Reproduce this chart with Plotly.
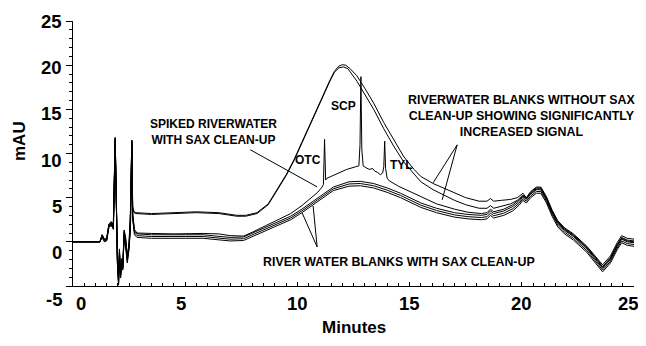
import plotly.graph_objects as go

# ---------------- data (minutes, mAU) ----------------
# Riverwater blanks WITHOUT SAX clean-up (upper pair)
t_a1 = [0, 1.2, 1.3, 1.4, 1.5, 1.6, 1.7, 1.8, 1.88, 1.93, 1.98, 2.03, 2.07, 2.12, 2.17, 2.22, 2.28, 2.35, 2.42, 2.5,
        2.56, 2.62, 2.66, 2.72, 2.8, 3.5, 4.5, 5.5, 6.5, 7.3, 7.7, 8.2, 8.7, 9.1, 9.5, 9.85, 10.2, 10.6, 10.9, 11.2,
        11.45, 11.65, 11.85, 12.0, 12.15, 12.35, 12.65, 13.0, 13.4, 13.85, 14.3, 14.75, 15.2, 15.5, 16.05, 16.5,
        17.0, 17.5, 18.1, 18.45, 18.6, 18.75, 19.1, 19.5, 19.8, 20.05, 20.2, 20.4, 20.65, 20.85, 21.1, 21.35, 21.6,
        21.9, 22.3, 22.9, 23.3, 23.6, 23.95, 24.25, 24.45, 24.7, 25.0]
v_a1 = [0, 0, 0.8, 0.3, 0.2, 2.0, 1.7, 2.3, 11.8, 3.0, -2.5, -4.8, -1.5, -4.0, -2.0, -3.0, 1.3, 0.5, -1.8, 0.0,
        3.5, 11.5, 4.0, 3.4, 3.3, 3.2, 3.3, 3.4, 3.3, 3.0, 3.0, 3.3, 4.3, 5.9, 7.6, 9.3, 11.3, 13.5, 15.2, 16.9,
        18.3, 19.3, 19.9, 20.05, 20.0, 19.6, 18.8, 17.4, 15.7, 13.5, 11.5, 9.6, 8.2, 7.4, 6.6, 6.1,
        5.5, 5.0, 4.6, 4.6, 4.9, 4.6, 4.7, 4.8, 5.0, 5.5, 5.0, 5.7, 6.2, 6.2, 5.1, 3.6, 2.4,
        1.6, 0.9, -0.5, -1.7, -2.6, -1.6, -0.1, 0.7, 0.4, 0.3]
t_a2 = [0, 1.2, 1.3, 1.4, 1.5, 1.6, 1.7, 1.8, 1.88, 1.93, 1.98, 2.03, 2.07, 2.12, 2.17, 2.22, 2.28, 2.35, 2.42, 2.5,
        2.56, 2.62, 2.66, 2.72, 2.8, 3.5, 4.5, 5.5, 6.5, 7.3, 7.7, 8.2, 8.7, 9.1, 9.5, 9.85, 10.2, 10.6, 10.9, 11.2,
        11.45, 11.65, 11.85, 12.05, 12.25, 12.65, 13.0, 13.4, 13.85, 14.3, 14.75, 15.2, 15.5, 16.05, 16.5,
        17.0, 17.5, 18.1, 18.45, 18.6, 18.75, 19.1, 19.5, 19.8, 20.05, 20.2, 20.4, 20.65, 20.85, 21.1, 21.35, 21.6,
        21.9, 22.3, 22.9, 23.3, 23.6, 23.95, 24.25, 24.45, 24.7, 25.0]
v_a2 = [0, 0, 0.7, 0.2, 0.3, 1.9, 1.8, 2.1, 11.6, 2.8, -2.2, -4.5, -1.2, -3.7, -2.3, -2.7, 1.1, 0.2, -1.9, -0.2,
        3.2, 11.4, 3.8, 3.3, 3.2, 3.1, 3.2, 3.3, 3.2, 2.9, 2.9, 3.2, 4.2, 5.8, 7.5, 9.2, 11.2, 13.4, 15.1, 16.8,
        18.2, 19.2, 19.7, 19.8, 19.6, 18.2, 16.7, 15.0, 12.8, 10.8, 9.0, 7.6, 6.8, 5.9, 5.3,
        4.7, 4.2, 3.8, 3.8, 4.1, 3.8, 4.0, 4.3, 4.7, 5.3, 4.9, 5.6, 6.1, 6.1, 5.0, 3.5, 2.3,
        1.5, 0.8, -0.6, -1.8, -2.8, -1.8, -0.3, 0.5, 0.2, 0.1]

# River water blanks WITH SAX clean-up (three lower lines)
t_b = [0, 1.2, 1.3, 1.4, 1.5, 1.6, 1.7, 1.8, 1.88, 1.93, 1.98, 2.03, 2.07, 2.12, 2.17, 2.22, 2.28, 2.35, 2.42, 2.5,
       2.56, 2.62, 2.66, 2.74, 2.85, 3.5, 4.5, 5.0, 5.8, 6.5, 7.0, 7.6, 8.0, 8.5, 9.0, 9.7, 10.2, 10.9, 11.6, 12.3,
       12.8, 13.4, 14.0, 14.6, 15.5, 16.2, 17.0, 17.6, 18.2, 18.45, 18.6, 18.75, 19.2, 19.6, 19.9, 20.05, 20.2,
       20.4, 20.65, 20.85, 21.1, 21.35, 21.6, 21.9, 22.3, 22.9, 23.3, 23.6, 23.95, 24.25, 24.45, 24.7, 25.0]
v_b1 = [0, 0, 0.7, 0.2, 0.3, 1.8, 2.2, 1.6, 11.6, 2.5, -2.0, -4.2, -1.0, -3.5, -2.2, -2.8, 1.0, -0.3, -2.0, -0.4,
        2.0, 11.3, 3.0, 1.2, 0.9, 0.8, 0.75, 0.8, 0.8, 0.6, 0.5, 0.55, 1.0, 1.6, 2.1, 2.9, 3.7, 5.0, 6.2, 6.8,
        6.85, 6.6, 6.1, 5.5, 4.4, 3.8, 3.3, 3.1, 3.0, 3.1, 3.5, 3.2, 3.5, 4.0, 4.6, 5.1, 4.8,
        5.4, 5.9, 5.9, 4.8, 3.3, 2.1, 1.3, 0.6, -0.8, -2.0, -3.0, -2.0, -0.5, 0.3, 0.0, -0.1]
v_b2 = [0, 0, 0.6, 0.1, 0.2, 1.7, 2.1, 1.5, 11.3, 2.2, -2.3, -4.6, -1.3, -3.8, -2.5, -3.0, 0.8, -0.5, -2.2, -0.6,
        1.8, 11.0, 2.7, 1.0, 0.7, 0.6, 0.55, 0.6, 0.6, 0.4, 0.3, 0.35, 0.8, 1.4, 1.9, 2.7, 3.5, 4.8, 6.0, 6.55,
        6.6, 6.35, 5.85, 5.25, 4.15, 3.55, 3.05, 2.85, 2.75, 2.85, 3.25, 2.95, 3.25, 3.75, 4.4, 4.9, 4.6,
        5.2, 5.7, 5.7, 4.6, 3.1, 1.9, 1.1, 0.4, -1.0, -2.2, -3.2, -2.2, -0.7, 0.1, -0.2, -0.3]
v_b3 = [0, 0, 0.5, 0.0, 0.1, 1.6, 2.0, 1.4, 11.0, 2.0, -2.5, -4.9, -1.6, -4.1, -2.7, -3.2, 0.6, -0.7, -2.4, -0.8,
        1.6, 10.8, 2.5, 0.8, 0.5, 0.4, 0.35, 0.4, 0.4, 0.2, 0.1, 0.15, 0.6, 1.2, 1.7, 2.5, 3.3, 4.6, 5.8, 6.3,
        6.35, 6.1, 5.6, 5.0, 3.9, 3.3, 2.8, 2.6, 2.5, 2.6, 3.0, 2.7, 3.0, 3.5, 4.2, 4.7, 4.4,
        5.0, 5.5, 5.5, 4.4, 2.9, 1.7, 0.9, 0.2, -1.2, -2.4, -3.4, -2.4, -0.9, -0.1, -0.4, -0.5]

# Spiked riverwater with SAX clean-up (OTC, SCP, TYL peaks)
t_c = [0, 1.2, 1.3, 1.4, 1.5, 1.6, 1.7, 1.8, 1.88, 1.93, 1.98, 2.03, 2.07, 2.12, 2.17, 2.22, 2.28, 2.35, 2.42, 2.5,
       2.56, 2.62, 2.66, 2.74, 2.85, 3.5, 4.5, 5.8, 6.5, 7.0, 7.6, 8.0, 8.5, 9.0, 9.7, 10.2, 10.6, 10.9, 11.1,
       11.16, 11.21, 11.26, 11.32, 11.5, 11.8, 12.2, 12.6, 12.74, 12.79, 12.83, 12.87, 12.93, 13.05, 13.2, 13.35,
       13.45, 13.55, 13.7, 13.8, 13.85, 13.89, 13.93, 14.0, 14.1, 14.5, 15.0, 15.5, 16.2, 17.0, 17.6, 18.2, 18.45,
       18.6, 18.75, 19.2, 19.6, 19.9, 20.05, 20.2, 20.4, 20.65, 20.85, 21.1, 21.35, 21.6, 21.9, 22.3, 22.9, 23.3,
       23.6, 23.95, 24.25, 24.45, 24.7, 25.0]
v_c = [0, 0, 0.8, 0.3, 0.4, 2.0, 2.3, 1.8, 11.8, 2.6, -1.8, -4.0, -0.8, -3.2, -1.9, -2.5, 1.3, 0.0, -1.7, -0.2,
       2.2, 11.5, 3.2, 1.4, 1.0, 0.95, 0.9, 0.95, 0.9, 0.7, 0.65, 1.1, 1.7, 2.3, 3.2, 4.1, 4.9, 5.6, 6.2,
       6.5, 11.6, 7.0, 7.2, 7.4, 7.8, 8.2, 8.5, 8.6, 11.0, 18.7, 10.5, 8.6, 8.4, 8.2, 8.3,
       8.0, 7.9, 7.6, 7.8, 8.5, 11.4, 8.3, 7.2, 6.9, 6.3, 5.7, 5.1, 4.3, 3.7, 3.35, 3.2, 3.3,
       3.7, 3.4, 3.7, 4.2, 4.8, 5.2, 4.9, 5.5, 6.0, 6.0, 4.9, 3.4, 2.2, 1.4, 0.7, -0.7, -1.9,
       -2.9, -1.9, -0.4, 0.4, 0.1, 0.0]

x_tick_vals = [0, 5, 10, 15, 20, 25]
x_tick_text = ["0", "5", "10", "15", "20", "25"]
y_tick_vals = [-5, 0, 5, 10, 15, 20, 25]
y_tick_text = ["-5", "0", "5", "10", "15", "20", "25"]

FONT = "Liberation Sans"

fig = go.Figure()
for tt, vv in [(t_a1, v_a1), (t_a2, v_a2), (t_b, v_b1), (t_b, v_b2), (t_b, v_b3), (t_c, v_c)]:
    fig.add_trace(go.Scatter(x=tt, y=vv, mode="lines", line=dict(color="black", width=1),
                             showlegend=False, hoverinfo="skip"))

# the page body adds an 8px margin, so the figure is sized to fit inside the window
fig.update_layout(
    width=630, height=330,
    margin=dict(l=65, r=4, t=13, b=52),
    paper_bgcolor="white", plot_bgcolor="white",
    font=dict(family=FONT, color="black"),
    xaxis=dict(range=[0, 25], showline=True, linecolor="black", linewidth=1, showgrid=False, zeroline=False,
               automargin=False,
               ticks="inside", ticklen=4, tickcolor="black", tickvals=x_tick_vals, showticklabels=False,
               minor=dict(dtick=0.5, tick0=0, ticks="inside", ticklen=3, tickcolor="black", showgrid=False)),
    yaxis=dict(range=[-5, 25], showline=True, linecolor="black", linewidth=1, showgrid=False, zeroline=False,
               automargin=False,
               ticks="outside", ticklen=6, tickcolor="black", tickvals=y_tick_vals, showticklabels=False,
               minor=dict(dtick=1, tick0=0, ticks="outside", ticklen=3, tickcolor="black", showgrid=False)),
)

ann = []
# tick labels
x_shift = {"0": 8, "5": -4, "25": -6}
for val, txt in zip(x_tick_vals, x_tick_text):
    ann.append(dict(x=val, y=0, xref="x", yref="paper", text=txt, showarrow=False, yanchor="top",
                    yshift=-5, xshift=x_shift.get(txt, 0), font=dict(family=FONT, size=18.5, weight="bold")))
for val, txt in zip(y_tick_vals, y_tick_text):
    ann.append(dict(x=0, y=val, xref="paper", yref="y", text=txt, showarrow=False, xanchor="right",
                    xshift=-9, yshift=-13 * (25 - val) / 30, font=dict(family=FONT, size=18.5, weight="bold")))
# axis titles
ann.append(dict(x=0.5, y=0, xref="paper", yref="paper", text="Minutes", showarrow=False, yanchor="top",
                yshift=-30, font=dict(family=FONT, size=17, weight="bold")))
ann.append(dict(x=0, y=0.5, xref="paper", yref="paper", text="mAU", showarrow=False, textangle=-90,
                xanchor="right", xshift=-42, yshift=12, font=dict(family=FONT, size=17, weight="bold")))
# labels
lab = dict(family=FONT, size=12, weight="bold")
lab2 = dict(family=FONT, size=12.4, weight="bold")
ann.append(dict(x=6.25, y=12.46, text="SPIKED RIVERWATER<br>WITH SAX CLEAN-UP", showarrow=False, font=lab))
ann.append(dict(x=20.0, y=14.2, text="RIVERWATER BLANKS WITHOUT SAX<br>CLEAN-UP SHOWING SIGNIFICANTLY<br>INCREASED SIGNAL",
                showarrow=False, font=lab2))
ann.append(dict(x=10.46, y=9.29, text="OTC", showarrow=False, font=lab))
ann.append(dict(x=12.04, y=15.33, text="SCP", showarrow=False, font=lab))
ann.append(dict(x=14.62, y=8.72, text="TYL", showarrow=False, font=lab))
ann.append(dict(x=14.51, y=-2.24, text="RIVER WATER BLANKS WITH SAX CLEAN-UP", showarrow=False, font=lab2))
fig.update_layout(annotations=ann)

# pointer lines
pointers = [((7.90, 10.42), (10.88, 6.22)),
            ((17.12, 10.98), (16.05, 6.68)),
            ((17.12, 10.98), (16.45, 4.75)),
            ((10.88, -0.58), (10.21, 3.28)),
            ((10.88, -0.58), (10.70, 4.07))]
for (x0, y0), (x1, y1) in pointers:
    fig.add_shape(type="line", x0=x0, y0=y0, x1=x1, y1=y1, xref="x", yref="y",
                  line=dict(color="black", width=1))

fig.write_html("out.html")
